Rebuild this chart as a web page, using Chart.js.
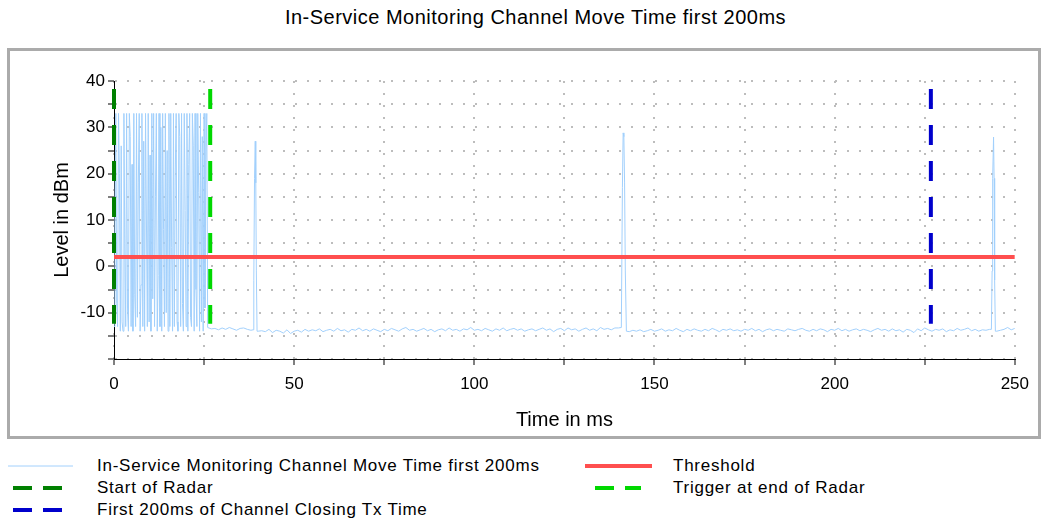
<!DOCTYPE html>
<html>
<head>
<meta charset="utf-8">
<title>In-Service Monitoring Channel Move Time first 200ms</title>
<script src="https://cdn.jsdelivr.net/npm/chart.js@4.4.1/dist/chart.umd.min.js"></script>
<style>
  body { margin: 0; width: 1047px; height: 521px; background: #fff; position: relative; overflow: hidden;
         font-family: "Liberation Sans", Arial, sans-serif; color: #000; }
  #title { position: absolute; left: 12px; top: 6px; width: 1047px; text-align: center; font-size: 20px; letter-spacing: 0.5px; }
  #frame { position: absolute; left: 7px; top: 48px; width: 1034px; height: 391px; box-sizing: border-box; border: 3px solid #ababab; }
  #frame canvas { display: block; }
  .legendItem { position: absolute; height: 20px; font-size: 17px; letter-spacing: 0.75px; }
  .legendItem svg { position: absolute; left: 0; top: 5px; }
  .legendItem span { position: absolute; top: 0; line-height: 20px; white-space: nowrap; }
</style>
</head>
<body>
<div id="title">In-Service Monitoring Channel Move Time first 200ms</div>
<div id="frame"><canvas id="moveChart" width="1028" height="385"></canvas></div>
<div id="legend"></div>
<script>
// Radar burst, sampled every 0.25 ms from 0 ms (dBm)
const burstStep = 0.25;
const burstLevels = [
  -13, 12, 33, -8, -13, 33, 20, -14,
  26, -12, -14, 33, 5, -13, 33, -9,
  -14, 33, 28, -13, 22, -14, 33, -6,
  -13, 33, -11, 18, 33, -14, -4, 33,
  -13, 27, -14, 33, 10, -13, 33, -12,
  24, -14, 33, -7, 33, -13, 15, 33,
  -14, -2, 33, -13, 30, -14, 33, 8,
  -13, 33, -10, 25, -14, 33, -13, 33,
  4, -14, 33, -13, 20, 33, -12, -14,
  33, 28, -13, 33, -8, -14, 33, 12,
  -13, 33, -14, 22, 33, -11, -13, 33,
  26, -14, 33, -5, -13, 33, 16, -14,
  33, -12, 28, -14, 33, -9, 23, 33
];

// Noise floor after the burst, every 1 ms from 26 ms to 250 ms (dBm)
const floorStart = 26;
const floorStep = 1;
const floorLevels = [
  -13.2, -13.5, -13.4, -13.7, -13.3, -13.6, -13.2, -13.5, -13.8, -13.4, -13.3, -13.6, -13.8, -13.9, -14.0,
  -13.9, -14.1, -13.6, -14.3, -13.8, -14.0, -14.4, -13.7, -14.5, -14.0, -13.8, -14.2, -13.6, -14.0, -13.7,
  -13.9, -13.5, -14.1, -13.8, -13.6, -14.0, -13.4, -13.9, -13.7, -14.2, -13.6, -13.8, -13.3, -13.9, -13.6,
  -14.0, -13.5, -13.8, -14.1, -13.6, -13.9, -13.4, -13.7, -14.0, -13.5, -13.2, -13.8, -13.6, -14.0, -13.7,
  -13.4, -13.9, -13.6, -14.1, -13.7, -13.5, -13.9, -13.3, -13.8, -13.6, -14.0, -13.5, -13.7, -13.2, -13.8,
  -13.6, -13.9, -13.4, -13.7, -14.0, -13.5, -13.8, -13.3, -13.9, -13.6, -13.4, -13.8, -13.5, -14.0, -13.7,
  -13.5, -13.9, -13.6, -13.3, -13.8, -13.5, -14.1, -13.6, -13.4, -13.9, -13.3, -13.7, -13.5, -14.0, -13.6,
  -13.3, -13.8, -13.5, -13.9, -13.2, -13.6, -13.4, -13.7, -13.3, -13.3, -13.2, -14.0, -14.1, -13.8, -14.0,
  -13.7, -14.1, -13.9, -13.6, -14.0, -13.8, -13.5, -14.0, -13.7, -13.9, -13.4, -13.8, -14.1, -13.6, -13.9,
  -13.5, -13.8, -14.0, -13.6, -13.9, -13.4, -13.7, -14.1, -13.6, -13.8, -13.5, -13.9, -13.7, -14.0, -13.6,
  -13.8, -13.4, -13.9, -13.6, -14.1, -13.7, -13.5, -13.9, -13.6, -13.8, -14.0, -13.5, -13.7, -13.9, -13.6,
  -13.4, -13.8, -14.0, -13.6, -13.9, -13.5, -13.7, -14.1, -13.6, -13.8, -13.4, -13.9, -13.6, -14.0, -13.7,
  -13.5, -13.9, -13.6, -13.8, -14.1, -13.7, -13.4, -13.8, -13.6, -14.0, -13.5, -13.9, -13.7, -14.2, -13.6,
  -13.8, -14.3, -13.5, -13.9, -13.3, -13.7, -14.0, -13.6, -13.8, -13.5, -14.1, -13.7, -13.9, -13.4, -13.8,
  -13.6, -13.3, -13.9, -13.6, -14.0, -13.7, -13.8, -13.6, -13.9, -14.0, -13.8, -13.6, -13.2, -13.7, -13.4
];

// The three short bursts on the floor (ms / dBm)
const spikeTimes = [
  [38.6, 38.8, 39.0, 39.2, 39.35, 39.5, 39.7],
  [140.8, 141.1, 141.3, 141.5, 141.7, 141.9, 142.2],
  [243.5, 243.7, 243.85, 244.1, 244.25, 244.4, 244.6]
];
const spikeLevels = [
  [-13.7, -3, 19, 27, 18, -1, -14],
  [-13.2, 17, 28.8, 28, 18, -1, -14],
  [-13.6, -1, 19, 27.9, 19, -3, -14]
];

// Reference lines
const thresholdLevel = 2;
const radarStartMs = 0;
const triggerMs = 26.7;
const closingEndMs = 226.7;
const markerTop = 38.3;
const markerBottom = -12.4;

const xMin = 0, xMax = 250, xStep = 25, xLabelEvery = 50;
const yMin = -20, yMax = 40, yStep = 5, yLabelEvery = 10;

// Build signal points
let signal = burstLevels.map((y, i) => ({x: i * burstStep, y}));
floorLevels.forEach((y, i) => {
    const x = floorStart + i * floorStep;
    const inSpike = spikeTimes.some(t => x >= t[0] && x <= t[t.length - 1]);
    if (!inSpike) signal.push({x, y});
});
spikeTimes.forEach((times, s) => {
    times.forEach((x, i) => signal.push({x, y: spikeLevels[s][i]}));
});
signal.sort((a, b) => a.x - b.x);

const vline = x => [{x, y: markerTop}, {x, y: markerBottom}];

Chart.defaults.font.family = '"Liberation Sans", Arial, sans-serif';
Chart.defaults.color = '#000';

const datasets = [
    {label: 'In-Service Monitoring Channel Move Time first 200ms', data: signal,
     borderColor: '#a2d0fc', borderWidth: 1, order: 5},
    {label: 'Threshold', data: [{x: xMin, y: thresholdLevel}, {x: xMax, y: thresholdLevel}],
     borderColor: '#ff4f4f', borderWidth: 4, order: 4},
    {label: 'Start of Radar', data: vline(radarStartMs), clip: false,
     borderColor: '#008000', borderWidth: 4, borderDash: [20, 16], order: 3},
    {label: 'Trigger at end of Radar', data: vline(triggerMs),
     borderColor: '#00d800', borderWidth: 4, borderDash: [20, 16], order: 2},
    {label: 'First 200ms of Channel Closing Tx Time', data: vline(closingEndMs),
     borderColor: '#0000cc', borderWidth: 4, borderDash: [20, 16], order: 1}
];

new Chart(document.getElementById('moveChart'), {
    type: 'line',
    data: {datasets},
    options: {
        responsive: false,
        animation: false,
        layout: {padding: {left: 40, right: 22, top: 30, bottom: 0}},
        plugins: {legend: {display: false}, tooltip: {enabled: false}},
        elements: {point: {radius: 0}, line: {tension: 0}},
        scales: {
            x: {
                type: 'linear', min: xMin, max: xMax,
                afterFit: s => { s.height = 77; },
                ticks: {stepSize: xStep, autoSkip: false, maxRotation: 0, padding: 9, font: {size: 17},
                        callback: v => v % xLabelEvery === 0 ? v : ''},
                grid: {color: '#bdbdbd', lineWidth: 2, tickLength: 6, tickColor: '#000', tickWidth: 1, tickBorderDash: []},
                border: {display: true, color: '#000', width: 1, dash: [2, 10]},
                title: {display: true, text: 'Time in ms', font: {size: 20}, padding: {top: 0, bottom: 4}}
            },
            y: {
                min: yMin, max: yMax,
                afterFit: s => { s.width = 64; },
                ticks: {stepSize: yStep, autoSkip: false, padding: 3, font: {size: 17},
                        callback: v => (v % yLabelEvery === 0 && v > yMin) ? v : ''},
                grid: {color: '#bdbdbd', lineWidth: 2, tickLength: 6, tickColor: '#000', tickWidth: 1, tickBorderDash: []},
                border: {display: true, color: '#000', width: 1, dash: [2, 10]},
                title: {display: true, text: 'Level in dBm', font: {size: 20}, padding: {top: 0, bottom: 0}}
            }
        }
    }
});

// Legend below the frame, two columns
const legendSpots = [
    {ds: 0, left: 8, top: 456, line: [0, 65], textX: 89},
    {ds: 1, left: 585, top: 456, line: [0, 67], textX: 88},
    {ds: 2, left: 8, top: 478, line: [5, 55], textX: 89},
    {ds: 3, left: 585, top: 478, line: [10, 56], textX: 88},
    {ds: 4, left: 8, top: 500, line: [5, 55], textX: 89}
];
const legendDiv = document.getElementById('legend');
legendSpots.forEach(spot => {
    const d = datasets[spot.ds];
    const item = document.createElement('div');
    item.className = 'legendItem';
    item.style.left = spot.left + 'px';
    item.style.top = spot.top + 'px';
    const dash = d.borderDash ? `stroke-dasharray="19 11"` : '';
    item.innerHTML = `<svg width="70" height="10"><line x1="${spot.line[0]}" y1="5" x2="${spot.line[1]}" y2="5"
        stroke="${d.borderColor}" stroke-width="${d.borderWidth}" ${dash}/></svg>
        <span style="left:${spot.textX}px">${d.label}</span>`;
    legendDiv.appendChild(item);
});
</script>
</body>
</html>
